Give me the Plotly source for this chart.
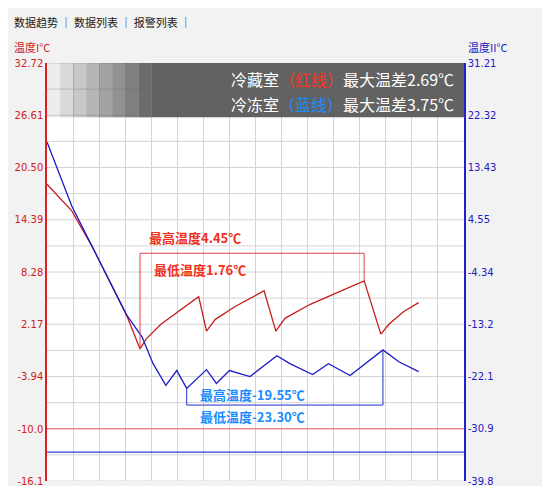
import plotly.graph_objects as go

# 冷藏室 (red, left axis)
red_x = [0, 0.95, 1.71, 2.47, 3.04, 3.57, 3.80, 4.37, 5.13, 5.82, 6.12, 6.46, 7.22, 8.33,
         8.78, 9.13, 10.08, 11.22, 12.17, 12.81, 13.12, 13.69, 14.26]
red_y = [18.56, 15.45, 11.42, 6.81, 3.36, -0.67, 0.48, 2.21, 3.94, 5.43, 1.40, 2.78, 4.28, 6.12,
         1.40, 2.90, 4.51, 6.01, 7.27, 1.06, 2.21, 3.70, 4.74]
# 冷冻室 (blue, right axis)
blue_x = [0, 0.95, 1.71, 2.47, 3.04, 3.65, 4.07, 4.56, 4.98, 5.36, 6.12, 6.50, 7.00, 7.79,
          8.82, 9.32, 10.19, 10.80, 11.63, 12.89, 13.50, 14.26]
blue_y = [17.81, 6.93, 0.23, -6.47, -11.49, -15.35, -19.87, -23.55, -21.04, -24.06, -20.88,
          -23.22, -21.04, -22.05, -18.53, -19.87, -21.71, -19.87, -21.88, -17.53, -19.54, -21.21]

left_ticks = [32.72, 26.61, 20.50, 14.39, 8.28, 2.17, -3.94, -10.03, -16.1]
left_text = ["32.72", "26.61", "20.50", "14.39", "8.28", "2.17", "-3.94", "-10.0", "-16.1"]
right_ticks = [31.21, 22.32, 13.43, 4.55, -4.34, -13.2, -22.1, -30.9, -39.8]
right_text = ["31.21", "22.32", "13.43", "4.55", "-4.34", "-13.2", "-22.1", "-30.9", "-39.8"]
red_limit = -10.0
blue_limit = -34.9

L0, L1 = -16.1, 32.72
R0, R1 = -39.8, 31.21
X1 = 16

fig = go.Figure()
fig.add_trace(go.Scatter(x=red_x, y=red_y, mode="lines", line=dict(color="#c81e1e", width=1.3)))
fig.add_trace(go.Scatter(x=blue_x, y=blue_y, mode="lines", yaxis="y2",
                         line=dict(color="#1c1cc8", width=1.3)))

# limit lines
fig.add_shape(type="line", x0=0, x1=X1, y0=red_limit, y1=red_limit, line=dict(color="#f06060", width=1.2))
fig.add_shape(type="line", x0=0, x1=X1, y0=blue_limit, y1=blue_limit, yref="y2",
              line=dict(color="#3040e0", width=1.2))

# brackets from min to max
rmin = red_y.index(min(red_y[4:]))
rmax = red_y.index(max(red_y[4:]))
rtop = 10.5
fig.add_shape(type="path", path=f"M {red_x[rmin]},{red_y[rmin]} L {red_x[rmin]},{rtop} L {red_x[rmax]},{rtop} L {red_x[rmax]},{red_y[rmax]}",
              line=dict(color="#e04050", width=1))
bmin = blue_y.index(min(blue_y))
bmax = blue_y.index(max(blue_y[7:]))
bbot = -26.9
fig.add_shape(type="path", yref="y2",
              path=f"M {blue_x[bmin]},{blue_y[bmin]} L {blue_x[bmin]},{bbot} L {blue_x[bmax]},{bbot} L {blue_x[bmax]},{blue_y[bmax]}",
              line=dict(color="#2030d0", width=1))

# dark header band with fade-in on the left
for i in range(8):
    fig.add_shape(type="rect", xref="x", yref="paper", x0=i * 0.5, x1=i * 0.5 + 0.5, y0=0.87, y1=1.0,
                  fillcolor="#5a5a5a", opacity=(i + 1) / 9, line_width=0, layer="above")
fig.add_shape(type="rect", xref="x", yref="paper", x0=4, x1=X1, y0=0.87, y1=1.0,
              fillcolor="#5a5a5a", opacity=0.95, line_width=0, layer="above")

font = "Noto Sans CJK SC"
ann = [
    dict(x=0.98, y=0.962, xref="paper", yref="paper", xanchor="right", yanchor="middle",
         text="冷藏室<span style='color:#ff3020'>（红线）</span>最大温差2.69℃",
         font=dict(size=16, color="white", family=font)),
    dict(x=0.98, y=0.902, xref="paper", yref="paper", xanchor="right", yanchor="middle",
         text="冷冻室<span style='color:#1a8cff'>（蓝线）</span>最大温差3.75℃",
         font=dict(size=16, color="white", family=font)),
    dict(x=red_x[rmin] + 0.25, y=12.3, xanchor="left", text="<b>最高温度4.45℃</b>",
         font=dict(size=13, color="#f03020", family=font)),
    dict(x=red_x[rmin] + 0.45, y=8.6, xanchor="left", text="<b>最低温度1.76℃</b>",
         font=dict(size=13, color="#f03020", family=font)),
    dict(x=blue_x[bmin] + 0.45, y=-25.1, yref="y2", xanchor="left", text="<b>最高温度-19.55℃</b>",
         font=dict(size=13, color="#1a8cff", family=font)),
    dict(x=blue_x[bmin] + 0.45, y=-28.8, yref="y2", xanchor="left", text="<b>最低温度-23.30℃</b>",
         font=dict(size=13, color="#1a8cff", family=font)),
    dict(x=-0.085, y=1.015, xref="paper", yref="paper", xanchor="left", yanchor="bottom", text="温度I°C",
         font=dict(size=11, color="#d02020", family=font)),
    dict(x=1.005, y=1.015, xref="paper", yref="paper", xanchor="left", yanchor="bottom", text="温度II°C",
         font=dict(size=11, color="#2020c0", family=font)),
    dict(x=-0.085, y=1.075, xref="paper", yref="paper", xanchor="left", yanchor="bottom",
         text="数据趋势 │ 数据列表 │ 报警列表 │", font=dict(size=11, color="#202020", family=font)),
]
for a in ann:
    a["showarrow"] = False
fig.update_layout(annotations=ann)

fig.update_layout(
    width=550, height=486, margin=dict(l=35, r=94, t=55, b=7),
    paper_bgcolor="#f2f2f2", plot_bgcolor="white", showlegend=False,
    xaxis=dict(range=[0, X1], dtick=1, showticklabels=False, gridcolor="#d4d4d4", zeroline=False,
               showline=False),
    yaxis=dict(range=[L0, L1], tickvals=left_ticks, ticktext=left_text, showgrid=False, zeroline=False,
               showline=True, linecolor="#e02020", linewidth=1.5, ticks="",
               tickfont=dict(size=10, color="#d02020", family="DejaVu Sans")),
    yaxis2=dict(range=[R0, R1], tickvals=right_ticks, ticktext=right_text, overlaying="y", side="right",
                showgrid=False, zeroline=False, showline=True, linecolor="#2020d0", linewidth=1.5,
                tickfont=dict(size=10, color="#2020c0", family="DejaVu Sans")),
)
# horizontal grid every 3.05 left units
for k in range(17):
    v = L0 + k * (L1 - L0) / 16
    fig.add_shape(type="line", x0=0, x1=X1, y0=v, y1=v, line=dict(color="#d4d4d4", width=1), layer="below")

fig.write_html("out.html")
